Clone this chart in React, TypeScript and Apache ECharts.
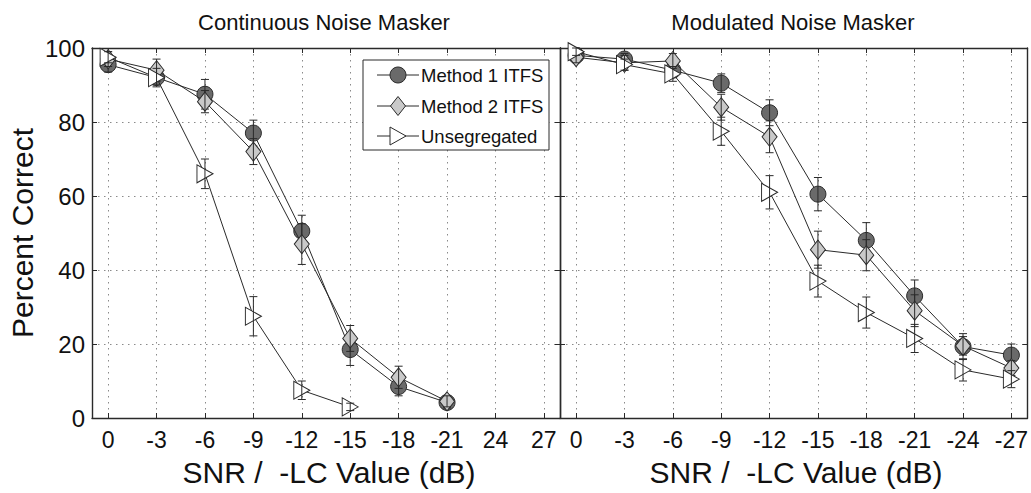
import React, { useEffect, useRef } from 'react';
import * as echarts from 'echarts';

// ---------- data ----------
const xTicks = [0, 3, 6, 9, 12, 15, 18, 21, 24, 27];
const leftTickLabels = ['0', '-3', '-6', '-9', '-12', '-15', '-18', '-21', '24', '27'];
const rightTickLabels = ['0', '-3', '-6', '-9', '-12', '-15', '-18', '-21', '-24', '-27'];

// Continuous noise masker (x = |SNR| in dB)
const contSNR = [0, 3, 6, 9, 12, 15, 18, 21];
const contM1 = [95.5, 92, 87.5, 77, 50.5, 18.5, 8.5, 4.2];
const contM1Err = [2, 2, 4, 3.5, 4.3, 4.3, 2.5, 1.5];
const contM2 = [97, 94, 85.5, 72, 47, 21.5, 11, 4.5];
const contM2Err = [2, 3, 3, 3.5, 5.5, 3.5, 3, 1.5];
const contUnsegSNR = [0, 3, 6, 9, 12, 15];
const contUnseg = [97.5, 92, 66, 27.5, 7.5, 3];
const contUnsegErr = [1.5, 2.5, 4, 5.3, 2.5, 1];

// Modulated noise masker
const modSNR = [0, 3, 6, 9, 12, 15, 18, 21, 24, 27];
const modM1 = [98, 97, 94, 90.5, 82.5, 60.5, 48, 33, 19.3, 17];
const modM1Err = [1.5, 1.5, 2, 2.5, 3.5, 4.5, 4.8, 4.3, 3.5, 3];
const modM2 = [97.5, 96, 96.5, 84, 76, 45.5, 44, 29, 19.5, 13.5];
const modM2Err = [1.5, 2, 2, 3.5, 4.3, 5, 4.2, 4.3, 2.5, 2];
const modUnseg = [99, 95.5, 93, 77.5, 61, 37, 28.5, 21.5, 13, 10.5];
const modUnsegErr = [1, 1.5, 2, 3.8, 4.5, 4.3, 4.2, 3.8, 3, 2.3];

const seriesNames = ['Method 1 ITFS', 'Method 2 ITFS', 'Unsegregated'];
const titles = ['Continuous Noise Masker', 'Modulated Noise Masker'];
const xName = 'SNR /  -LC Value (dB)';
const yName = 'Percent Correct';

// ---------- styles ----------
const FONT = '"Liberation Sans", Arial, Helvetica, sans-serif';
const INK = '#2a2a2a';
const M1_FILL = '#6a6a6a';
const M2_FILL = '#c9c9c9';
const UN_FILL = '#ffffff';

const gridLine = { show: true, lineStyle: { color: '#8a8a8a', type: [1.5, 4.5] as any, width: 1 } };
const axisLine = { show: true, onZero: false, lineStyle: { color: INK, width: 1.4 } };

function makeAxes(gridIndex: number, labels: string[], showYLabels: boolean) {
  const xs = [
    {
      type: 'value', gridIndex, position: 'bottom', min: -1, max: 28,
      axisLine,
      axisTick: { show: true, inside: true, length: 5, customValues: xTicks, lineStyle: { color: INK } },
      axisLabel: {
        show: true, customValues: xTicks, margin: 10, fontSize: 23, color: '#111', fontFamily: FONT,
        formatter: (v: number) => labels[xTicks.indexOf(Math.round(v))] ?? '',
      },
      splitLine: gridLine,
    },
    {
      type: 'value', gridIndex, position: 'top', min: -1, max: 28,
      axisLine,
      axisTick: { show: true, inside: true, length: 5, customValues: xTicks, lineStyle: { color: INK } },
      axisLabel: { show: false },
      splitLine: { show: false },
    },
  ];
  const ys = [
    {
      type: 'value', gridIndex, position: 'left', min: 0, max: 100, interval: 20,
      axisLine,
      axisTick: { show: true, inside: true, length: 5, lineStyle: { color: INK } },
      axisLabel: { show: showYLabels, margin: 7, fontSize: 24, color: '#111', fontFamily: FONT },
      splitLine: gridLine,
    },
    {
      type: 'value', gridIndex, position: 'right', min: 0, max: 100, interval: 20,
      axisLine,
      axisTick: { show: true, inside: true, length: 5, lineStyle: { color: INK } },
      axisLabel: { show: false },
      splitLine: { show: false },
    },
  ];
  return { xs, ys };
}

function lineSeries(axisIdx: number, xs: number[], ys: number[], kind: number, z: number) {
  const base: any = {
    type: 'line', xAxisIndex: axisIdx, yAxisIndex: axisIdx, z,
    name: seriesNames[kind],
    data: xs.map((x, i) => [x, ys[i]]),
    lineStyle: { color: INK, width: 1 },
    silent: true,
  };
  if (kind === 0) {
    base.symbol = 'circle'; base.symbolSize = 16;
    base.itemStyle = { color: M1_FILL, borderColor: INK, borderWidth: 1 };
  } else if (kind === 1) {
    base.symbol = 'diamond'; base.symbolSize = [15, 19];
    base.itemStyle = { color: M2_FILL, borderColor: INK, borderWidth: 1 };
  } else {
    base.symbol = 'triangle'; base.symbolSize = [18, 16]; base.symbolRotate = -90;
    base.itemStyle = { color: UN_FILL, borderColor: INK, borderWidth: 1 };
  }
  return base;
}

function errSeries(axisIdx: number, xs: number[], ys: number[], errs: number[], z: number) {
  return {
    type: 'custom', xAxisIndex: axisIdx, yAxisIndex: axisIdx, z, silent: true,
    data: xs.map((x, i) => [x, ys[i] - errs[i], ys[i] + errs[i]]),
    encode: { x: 0, y: [1, 2] },
    renderItem: (_p: any, api: any) => {
      const lo = api.coord([api.value(0), api.value(1)]);
      const hi = api.coord([api.value(0), api.value(2)]);
      const w = 4;
      const style = { stroke: INK, lineWidth: 1, fill: 'none' };
      return {
        type: 'group',
        children: [
          { type: 'line', shape: { x1: lo[0], y1: lo[1], x2: hi[0], y2: hi[1] }, style },
          { type: 'line', shape: { x1: lo[0] - w, y1: lo[1], x2: lo[0] + w, y2: lo[1] }, style },
          { type: 'line', shape: { x1: hi[0] - w, y1: hi[1], x2: hi[0] + w, y2: hi[1] }, style },
        ],
      };
    },
  };
}

function textEl(text: string, x: number, y: number, size: number, extra: any = {}) {
  return {
    type: 'text', x, y, silent: true, ...extra,
    style: { text, fill: '#111', font: `${size}px ${FONT}`, align: 'center', verticalAlign: 'middle', ...(extra.style || {}) },
  };
}

export default function App() {
  const ref = useRef<HTMLDivElement>(null);
  useEffect(() => {
    if (!ref.current) return;
    const chart = echarts.init(ref.current, undefined, { renderer: 'svg' });
    const a0 = makeAxes(0, leftTickLabels, true);
    const a1 = makeAxes(1, rightTickLabels, false);

    const legendX = 398;
    const legendRows = [75, 106, 136];
    const legend: any[] = [
      { type: 'rect', shape: { x: 363, y: 60, width: 186, height: 90 }, style: { fill: '#fff', stroke: INK, lineWidth: 1 }, z: 50 },
    ];
    legendRows.forEach((yy, k) => {
      legend.push({ type: 'line', shape: { x1: 377, y1: yy, x2: 419, y2: yy }, style: { stroke: INK, lineWidth: 1 }, z: 51 });
      if (k === 0) legend.push({ type: 'circle', shape: { cx: legendX, cy: yy, r: 8 }, style: { fill: M1_FILL, stroke: INK, lineWidth: 1 }, z: 52 });
      if (k === 1) legend.push({ type: 'polygon', shape: { points: [[legendX, yy - 9.5], [legendX + 7.5, yy], [legendX, yy + 9.5], [legendX - 7.5, yy]] }, style: { fill: M2_FILL, stroke: INK, lineWidth: 1 }, z: 52 });
      if (k === 2) legend.push({ type: 'polygon', shape: { points: [[legendX - 8, yy - 9], [legendX + 8, yy], [legendX - 8, yy + 9]] }, style: { fill: UN_FILL, stroke: INK, lineWidth: 1 }, z: 52 });
      legend.push({ type: 'text', x: 421, y: yy, z: 52, style: { text: seriesNames[k], fill: '#111', font: `18.5px ${FONT}`, align: 'left', verticalAlign: 'middle' } });
    });

    chart.setOption({
      animation: false,
      backgroundColor: '#fff',
      grid: [
        { left: 92, right: 1031 - 560, top: 48, bottom: 493 - 418 },
        { left: 560, right: 2, top: 48, bottom: 493 - 418 },
      ],
      xAxis: [...a0.xs, ...a1.xs],
      yAxis: [...a0.ys, ...a1.ys],
      series: [
        lineSeries(0, contSNR, contM1, 0, 2),
        errSeries(0, contSNR, contM1, contM1Err, 3),
        lineSeries(0, contSNR, contM2, 1, 4),
        errSeries(0, contSNR, contM2, contM2Err, 5),
        lineSeries(0, contUnsegSNR, contUnseg, 2, 6),
        errSeries(0, contUnsegSNR, contUnseg, contUnsegErr, 7),
        lineSeries(2, modSNR, modM1, 0, 2),
        errSeries(2, modSNR, modM1, modM1Err, 3),
        lineSeries(2, modSNR, modM2, 1, 4),
        errSeries(2, modSNR, modM2, modM2Err, 5),
        lineSeries(2, modSNR, modUnseg, 2, 6),
        errSeries(2, modSNR, modUnseg, modUnsegErr, 7),
      ],
      graphic: [
        textEl(titles[0], 324, 22, 22),
        textEl(titles[1], 793, 22, 22),
        textEl(xName, 329, 472, 30),
        textEl(xName, 796, 472, 30),
        textEl(yName, 22, 233, 30, { rotation: Math.PI / 2 }),
        ...legend,
      ],
    });
    return () => chart.dispose();
  }, []);
  return <div ref={ref} style={{ position: 'fixed', left: 0, top: 0, width: 1031, height: 493, background: '#fff' }} />;
}
